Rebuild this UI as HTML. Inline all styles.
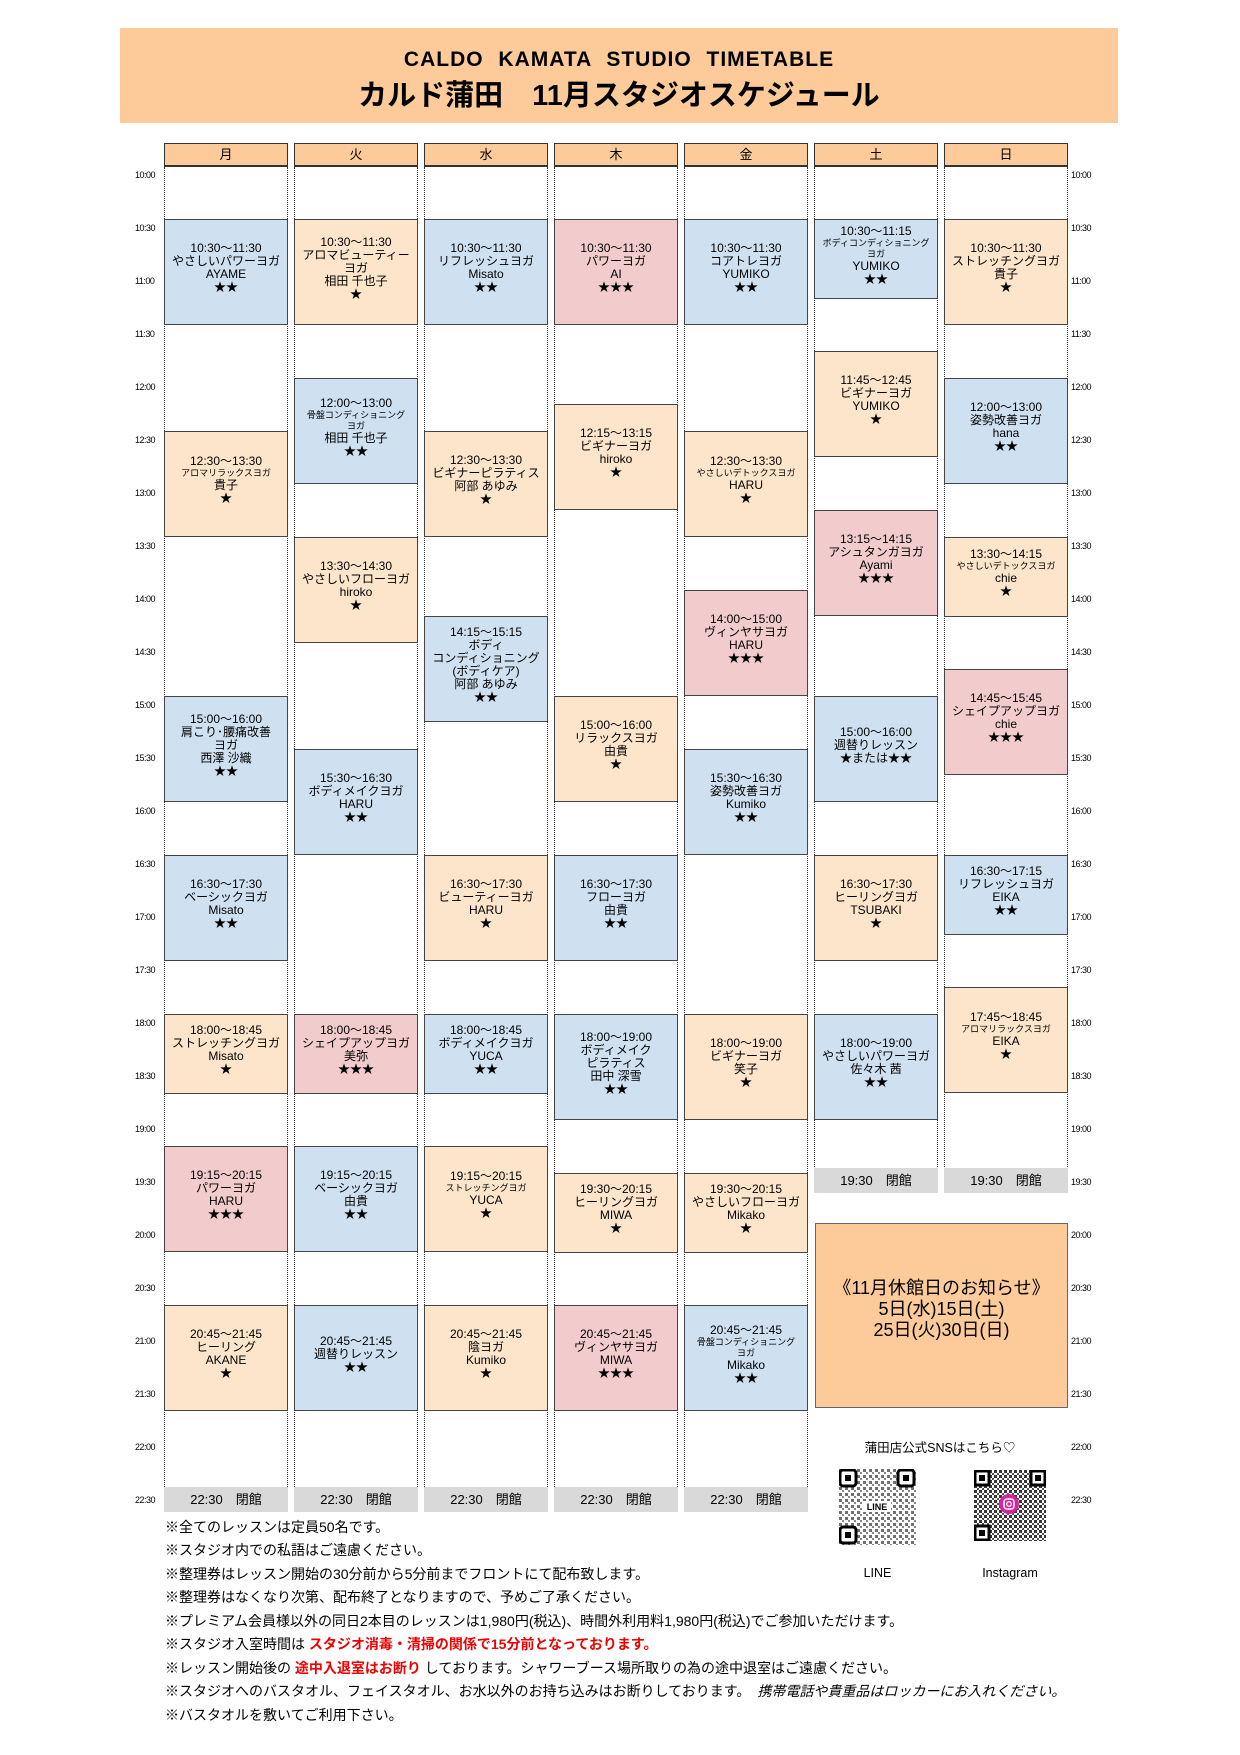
<!DOCTYPE html>
<html><head><meta charset="utf-8">
<style>
*{margin:0;padding:0;box-sizing:border-box}
body{width:1240px;height:1755px;background:#fff;position:relative;font-family:"Liberation Sans","Noto Sans CJK JP",sans-serif;color:#000;overflow:hidden}
.ban{position:absolute;left:120px;top:28px;width:998px;height:95px;background:#fccb99;text-align:center}
.ban .t1{position:absolute;top:20px;width:100%;font-size:21px;font-weight:bold;letter-spacing:1px;word-spacing:8px}
.ban .t2{position:absolute;top:44px;width:100%;font-size:29px;font-weight:bold}
.dh{position:absolute;top:143px;width:124px;height:24px;background:#fccb99;border:1px solid #333;border-bottom:2px solid #333;text-align:center;font-size:13px;line-height:22px}
.col{position:absolute;top:167px;width:124px;border-left:1px dotted #333;border-right:1px dotted #333}
.tl{position:absolute;font-size:9px;letter-spacing:-0.5px}
.b{position:absolute;width:124px;border:1px solid #444;display:flex;flex-direction:column;justify-content:center;text-align:center;font-size:12px;line-height:13px;padding-bottom:8px}
.bl{background:#cfe0f1}.or{background:#fde5cc}.pk{background:#f2cccd}
.s{font-size:9px;line-height:11px}
.cl{position:absolute;width:124px;height:25px;background:#d9d9d9;text-align:center;font-size:13px;line-height:25px}
.note{position:absolute;left:165px;font-size:14px;white-space:nowrap}
.r{color:#e00;font-weight:bold}
</style></head><body>
<div class="ban"><div class="t1">CALDO KAMATA STUDIO TIMETABLE</div><div class="t2">カルド蒲田　11月スタジオスケジュール</div></div>

<div class="dh" style="left:164px">月</div>
<div class="dh" style="left:294px">火</div>
<div class="dh" style="left:424px">水</div>
<div class="dh" style="left:554px">木</div>
<div class="dh" style="left:684px">金</div>
<div class="dh" style="left:814px">土</div>
<div class="dh" style="left:944px">日</div>

<div class="col" style="left:164px;height:1320px"></div>
<div class="col" style="left:294px;height:1320px"></div>
<div class="col" style="left:424px;height:1320px"></div>
<div class="col" style="left:554px;height:1320px"></div>
<div class="col" style="left:684px;height:1320px"></div>
<div class="col" style="left:814px;height:1000px"></div>
<div class="col" style="left:944px;height:1000px"></div>

<div class="tl" style="left:135px;top:170px">10:00</div><div class="tl" style="left:135px;top:223px">10:30</div><div class="tl" style="left:135px;top:276px">11:00</div><div class="tl" style="left:135px;top:329px">11:30</div><div class="tl" style="left:135px;top:382px">12:00</div><div class="tl" style="left:135px;top:435px">12:30</div><div class="tl" style="left:135px;top:488px">13:00</div><div class="tl" style="left:135px;top:541px">13:30</div><div class="tl" style="left:135px;top:594px">14:00</div><div class="tl" style="left:135px;top:647px">14:30</div><div class="tl" style="left:135px;top:700px">15:00</div><div class="tl" style="left:135px;top:753px">15:30</div><div class="tl" style="left:135px;top:806px">16:00</div><div class="tl" style="left:135px;top:859px">16:30</div><div class="tl" style="left:135px;top:912px">17:00</div><div class="tl" style="left:135px;top:965px">17:30</div><div class="tl" style="left:135px;top:1018px">18:00</div><div class="tl" style="left:135px;top:1071px">18:30</div><div class="tl" style="left:135px;top:1124px">19:00</div><div class="tl" style="left:135px;top:1177px">19:30</div><div class="tl" style="left:135px;top:1230px">20:00</div><div class="tl" style="left:135px;top:1283px">20:30</div><div class="tl" style="left:135px;top:1336px">21:00</div><div class="tl" style="left:135px;top:1389px">21:30</div><div class="tl" style="left:135px;top:1442px">22:00</div><div class="tl" style="left:135px;top:1495px">22:30</div>
<div class="tl" style="left:1071px;top:170px">10:00</div><div class="tl" style="left:1071px;top:223px">10:30</div><div class="tl" style="left:1071px;top:276px">11:00</div><div class="tl" style="left:1071px;top:329px">11:30</div><div class="tl" style="left:1071px;top:382px">12:00</div><div class="tl" style="left:1071px;top:435px">12:30</div><div class="tl" style="left:1071px;top:488px">13:00</div><div class="tl" style="left:1071px;top:541px">13:30</div><div class="tl" style="left:1071px;top:594px">14:00</div><div class="tl" style="left:1071px;top:647px">14:30</div><div class="tl" style="left:1071px;top:700px">15:00</div><div class="tl" style="left:1071px;top:753px">15:30</div><div class="tl" style="left:1071px;top:806px">16:00</div><div class="tl" style="left:1071px;top:859px">16:30</div><div class="tl" style="left:1071px;top:912px">17:00</div><div class="tl" style="left:1071px;top:965px">17:30</div><div class="tl" style="left:1071px;top:1018px">18:00</div><div class="tl" style="left:1071px;top:1071px">18:30</div><div class="tl" style="left:1071px;top:1124px">19:00</div><div class="tl" style="left:1071px;top:1177px">19:30</div><div class="tl" style="left:1071px;top:1230px">20:00</div><div class="tl" style="left:1071px;top:1283px">20:30</div><div class="tl" style="left:1071px;top:1336px">21:00</div><div class="tl" style="left:1071px;top:1389px">21:30</div><div class="tl" style="left:1071px;top:1442px">22:00</div><div class="tl" style="left:1071px;top:1495px">22:30</div>

<!-- Mon -->
<div class="b bl" style="left:164px;top:219px;height:106px">10:30～11:30<br>やさしいパワーヨガ<br>AYAME<br>★★</div>
<div class="b or" style="left:164px;top:431px;height:106px">12:30～13:30<br><span class="s">アロマリラックスヨガ</span>貴子<br>★</div>
<div class="b bl" style="left:164px;top:696px;height:106px">15:00～16:00<br>肩こり･腰痛改善<br>ヨガ<br>西澤 沙織<br>★★</div>
<div class="b bl" style="left:164px;top:855px;height:106px">16:30～17:30<br>ベーシックヨガ<br>Misato<br>★★</div>
<div class="b or" style="left:164px;top:1014px;height:80px">18:00～18:45<br>ストレッチングヨガ<br>Misato<br>★</div>
<div class="b pk" style="left:164px;top:1146px;height:106px">19:15～20:15<br>パワーヨガ<br>HARU<br>★★★</div>
<div class="b or" style="left:164px;top:1305px;height:106px">20:45～21:45<br>ヒーリング<br>AKANE<br>★</div>
<!-- Tue -->
<div class="b or" style="left:294px;top:219px;height:106px">10:30～11:30<br>アロマビューティー<br>ヨガ<br>相田 千也子<br>★</div>
<div class="b bl" style="left:294px;top:378px;height:106px">12:00～13:00<br><span class="s">骨盤コンディショニング<br>ヨガ</span>相田 千也子<br>★★</div>
<div class="b or" style="left:294px;top:537px;height:106px">13:30～14:30<br>やさしいフローヨガ<br>hiroko<br>★</div>
<div class="b bl" style="left:294px;top:749px;height:106px">15:30～16:30<br>ボディメイクヨガ<br>HARU<br>★★</div>
<div class="b pk" style="left:294px;top:1014px;height:80px">18:00～18:45<br>シェイプアップヨガ<br>美弥<br>★★★</div>
<div class="b bl" style="left:294px;top:1146px;height:106px">19:15～20:15<br>ベーシックヨガ<br>由貴<br>★★</div>
<div class="b bl" style="left:294px;top:1305px;height:106px">20:45～21:45<br>週替りレッスン<br>★★</div>
<!-- Wed -->
<div class="b bl" style="left:424px;top:219px;height:106px">10:30～11:30<br>リフレッシュヨガ<br>Misato<br>★★</div>
<div class="b or" style="left:424px;top:431px;height:106px">12:30～13:30<br>ビギナーピラティス<br>阿部 あゆみ<br>★</div>
<div class="b bl" style="left:424px;top:616px;height:106px">14:15～15:15<br>ボディ<br>コンディショニング<br>(ボディケア)<br>阿部 あゆみ<br>★★</div>
<div class="b or" style="left:424px;top:855px;height:106px">16:30～17:30<br>ビューティーヨガ<br>HARU<br>★</div>
<div class="b bl" style="left:424px;top:1014px;height:80px">18:00～18:45<br>ボディメイクヨガ<br>YUCA<br>★★</div>
<div class="b or" style="left:424px;top:1146px;height:106px">19:15～20:15<br><span class="s">ストレッチングヨガ</span>YUCA<br>★</div>
<div class="b or" style="left:424px;top:1305px;height:106px">20:45～21:45<br>陰ヨガ<br>Kumiko<br>★</div>
<!-- Thu -->
<div class="b pk" style="left:554px;top:219px;height:106px">10:30～11:30<br>パワーヨガ<br>AI<br>★★★</div>
<div class="b or" style="left:554px;top:404px;height:106px">12:15～13:15<br>ビギナーヨガ<br>hiroko<br>★</div>
<div class="b or" style="left:554px;top:696px;height:106px">15:00～16:00<br>リラックスヨガ<br>由貴<br>★</div>
<div class="b bl" style="left:554px;top:855px;height:106px">16:30～17:30<br>フローヨガ<br>由貴<br>★★</div>
<div class="b bl" style="left:554px;top:1014px;height:106px">18:00～19:00<br>ボディメイク<br>ピラティス<br>田中 深雪<br>★★</div>
<div class="b or" style="left:554px;top:1173px;height:80px">19:30～20:15<br>ヒーリングヨガ<br>MIWA<br>★</div>
<div class="b pk" style="left:554px;top:1305px;height:106px">20:45～21:45<br>ヴィンヤサヨガ<br>MIWA<br>★★★</div>
<!-- Fri -->
<div class="b bl" style="left:684px;top:219px;height:106px">10:30～11:30<br>コアトレヨガ<br>YUMIKO<br>★★</div>
<div class="b or" style="left:684px;top:431px;height:106px">12:30～13:30<br><span class="s">やさしいデトックスヨガ</span>HARU<br>★</div>
<div class="b pk" style="left:684px;top:590px;height:106px">14:00～15:00<br>ヴィンヤサヨガ<br>HARU<br>★★★</div>
<div class="b bl" style="left:684px;top:749px;height:106px">15:30～16:30<br>姿勢改善ヨガ<br>Kumiko<br>★★</div>
<div class="b or" style="left:684px;top:1014px;height:106px">18:00～19:00<br>ビギナーヨガ<br>笑子<br>★</div>
<div class="b or" style="left:684px;top:1173px;height:80px">19:30～20:15<br>やさしいフローヨガ<br>Mikako<br>★</div>
<div class="b bl" style="left:684px;top:1305px;height:106px">20:45～21:45<br><span class="s">骨盤コンディショニング<br>ヨガ</span>Mikako<br>★★</div>
<!-- Sat -->
<div class="b bl" style="left:814px;top:219px;height:80px">10:30～11:15<br><span class="s">ボディコンディショニング<br>ヨガ</span>YUMIKO<br>★★</div>
<div class="b or" style="left:814px;top:351px;height:106px">11:45～12:45<br>ビギナーヨガ<br>YUMIKO<br>★</div>
<div class="b pk" style="left:814px;top:510px;height:106px">13:15～14:15<br>アシュタンガヨガ<br>Ayami<br>★★★</div>
<div class="b bl" style="left:814px;top:696px;height:106px">15:00～16:00<br>週替りレッスン<br>★または★★</div>
<div class="b or" style="left:814px;top:855px;height:106px">16:30～17:30<br>ヒーリングヨガ<br>TSUBAKI<br>★</div>
<div class="b bl" style="left:814px;top:1014px;height:106px">18:00～19:00<br>やさしいパワーヨガ<br>佐々木 茜<br>★★</div>
<!-- Sun -->
<div class="b or" style="left:944px;top:219px;height:106px">10:30～11:30<br>ストレッチングヨガ<br>貴子<br>★</div>
<div class="b bl" style="left:944px;top:378px;height:106px">12:00～13:00<br>姿勢改善ヨガ<br>hana<br>★★</div>
<div class="b or" style="left:944px;top:537px;height:80px">13:30～14:15<br><span class="s">やさしいデトックスヨガ</span>chie<br>★</div>
<div class="b pk" style="left:944px;top:669px;height:106px">14:45～15:45<br>シェイプアップヨガ<br>chie<br>★★★</div>
<div class="b bl" style="left:944px;top:855px;height:80px">16:30～17:15<br>リフレッシュヨガ<br>EIKA<br>★★</div>
<div class="b or" style="left:944px;top:987px;height:106px">17:45～18:45<br><span class="s">アロマリラックスヨガ</span>EIKA<br>★</div>

<div class="cl" style="left:814px;top:1168px">19:30　閉館</div>
<div class="cl" style="left:944px;top:1168px">19:30　閉館</div>
<div class="cl" style="left:164px;top:1487px">22:30　閉館</div>
<div class="cl" style="left:294px;top:1487px">22:30　閉館</div>
<div class="cl" style="left:424px;top:1487px">22:30　閉館</div>
<div class="cl" style="left:554px;top:1487px">22:30　閉館</div>
<div class="cl" style="left:684px;top:1487px">22:30　閉館</div>

<div style="position:absolute;left:815px;top:1223px;width:253px;height:185px;background:#fccb99;border:1px solid #666;text-align:center;font-size:18px;line-height:21px;padding-top:54px">《11月休館日のお知らせ》<br>5日(水)15日(土)<br>25日(火)30日(日)</div>
<div style="position:absolute;left:840px;top:1437px;width:200px;text-align:center;font-size:12.5px">蒲田店公式SNSはこちら♡</div>
<svg style="position:absolute;left:839px;top:1469px" width="77" height="76" viewBox="0 0 77 76">
<defs><pattern id="q" width="6" height="6" patternUnits="userSpaceOnUse"><rect width="3" height="3" fill="#333"/><rect x="3" y="3" width="2" height="2" fill="#555"/></pattern></defs>
<rect width="77" height="76" fill="url(#q)" opacity="0.7"/>
<rect x="1" y="1" width="16" height="16" rx="3" fill="#fff" stroke="#000" stroke-width="3"/><rect x="6" y="6" width="6" height="6" fill="#000"/>
<rect x="59" y="1" width="16" height="16" rx="3" fill="#fff" stroke="#000" stroke-width="3"/><rect x="64" y="6" width="6" height="6" fill="#000"/>
<rect x="1" y="58" width="16" height="16" rx="3" fill="#fff" stroke="#000" stroke-width="3"/><rect x="6" y="63" width="6" height="6" fill="#000"/>
<rect x="24" y="32" width="28" height="11" fill="#fff"/><text x="38" y="41" font-size="9" font-weight="bold" text-anchor="middle" font-family="Liberation Sans">LINE</text></svg>
<svg style="position:absolute;left:974px;top:1470px" width="72" height="71" viewBox="0 0 72 71">
<defs><pattern id="q2" width="5" height="5" patternUnits="userSpaceOnUse"><rect width="3" height="3" fill="#111"/><rect x="3" y="3" width="2" height="2" fill="#333"/></pattern></defs>
<rect width="72" height="71" fill="url(#q2)" opacity="0.85"/>
<rect x="1" y="1" width="14" height="14" fill="#fff" stroke="#000" stroke-width="3"/><rect x="5" y="5" width="6" height="6" fill="#000"/>
<rect x="57" y="1" width="14" height="14" fill="#fff" stroke="#000" stroke-width="3"/><rect x="61" y="5" width="6" height="6" fill="#000"/>
<rect x="1" y="56" width="14" height="14" fill="#fff" stroke="#000" stroke-width="3"/><rect x="5" y="60" width="6" height="6" fill="#000"/>
<circle cx="35" cy="34" r="10" fill="#d6249f"/><rect x="30" y="29" width="10" height="10" rx="3" fill="none" stroke="#fff" stroke-width="1.5"/><circle cx="35" cy="34" r="2.3" fill="none" stroke="#fff" stroke-width="1.3"/></svg>
<div style="position:absolute;left:850px;top:1566px;width:55px;text-align:center;font-size:12.5px">LINE</div>
<div style="position:absolute;left:970px;top:1566px;width:80px;text-align:center;font-size:12.5px">Instagram</div>

<div class="note" style="top:1517px">※全てのレッスンは定員50名です。</div>
<div class="note" style="top:1540px">※スタジオ内での私語はご遠慮ください。</div>
<div class="note" style="top:1564px">※整理券はレッスン開始の30分前から5分前までフロントにて配布致します。</div>
<div class="note" style="top:1587px">※整理券はなくなり次第、配布終了となりますので、予めご了承ください。</div>
<div class="note" style="top:1611px">※プレミアム会員様以外の同日2本目のレッスンは1,980円(税込)、時間外利用料1,980円(税込)でご参加いただけます。</div>
<div class="note" style="top:1634px">※スタジオ入室時間は <span class="r">スタジオ消毒・清掃の関係で15分前となっております。</span></div>
<div class="note" style="top:1658px">※レッスン開始後の <span class="r">途中入退室はお断り</span> しております。シャワーブース場所取りの為の途中退室はご遠慮ください。</div>
<div class="note" style="top:1681px">※スタジオへのバスタオル、フェイスタオル、お水以外のお持ち込みはお断りしております。　<i>携帯電話や貴重品はロッカーにお入れください。</i></div>
<div class="note" style="top:1705px">※バスタオルを敷いてご利用下さい。</div>
</body></html>
